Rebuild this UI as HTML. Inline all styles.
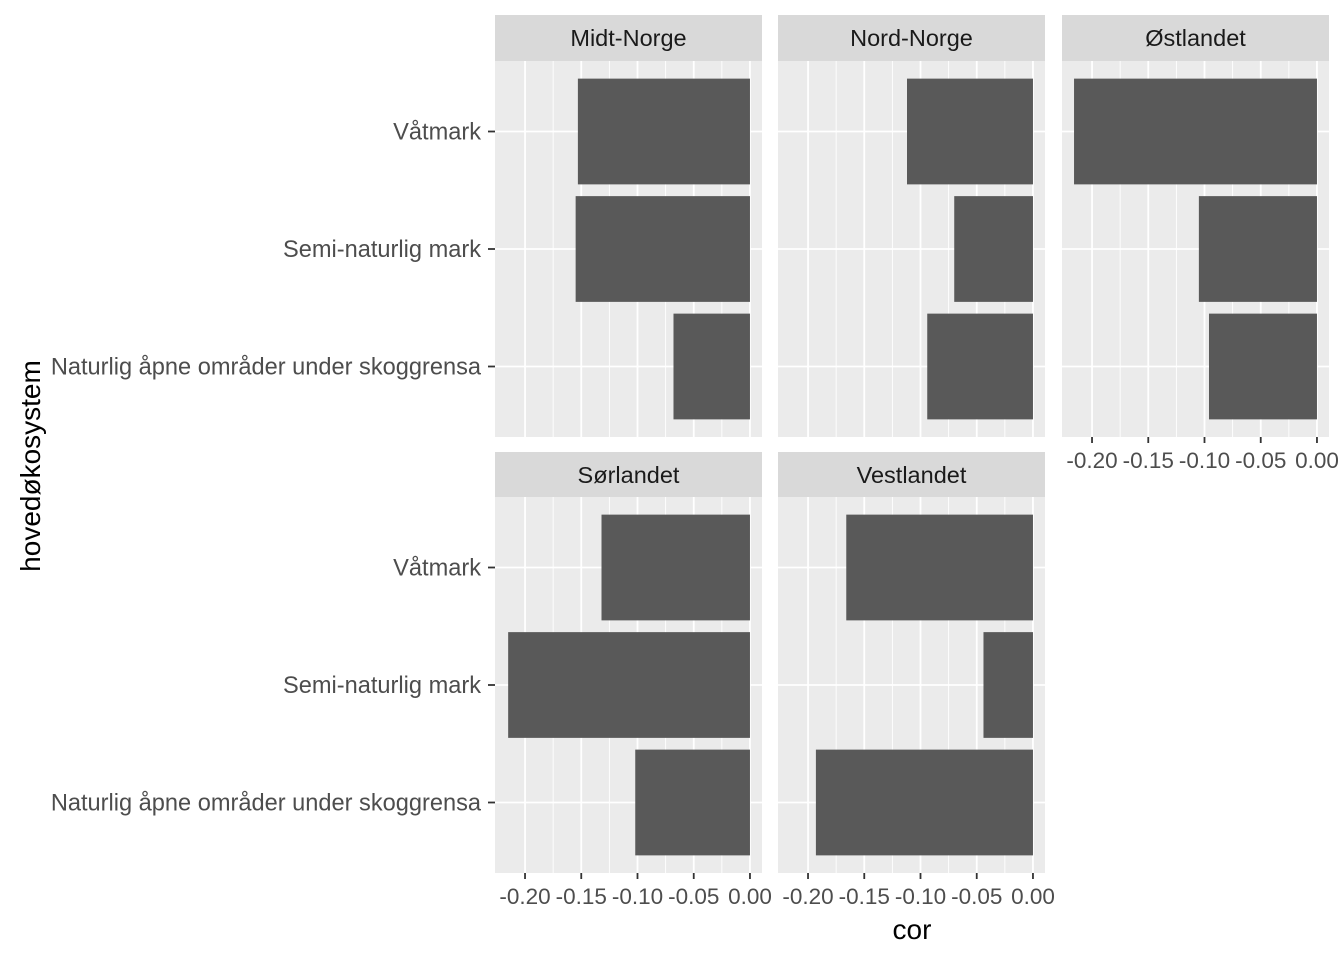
<!DOCTYPE html>
<html><head><meta charset="utf-8"><style>
body{margin:0;background:#fff}
svg{display:block;font-family:"Liberation Sans",Arial,sans-serif}
</style></head><body>
<svg id="c" width="1344" height="960"></svg>
<script>
const categories=["Våtmark","Semi-naturlig mark","Naturlig åpne områder under skoggrensa"];
const facets=["Midt-Norge","Nord-Norge","Østlandet","Sørlandet","Vestlandet"];
const valMidt=[-0.153,-0.155,-0.068];
const valNord=[-0.112,-0.070,-0.094];
const valOst=[-0.216,-0.105,-0.096];
const valSor=[-0.132,-0.215,-0.102];
const valVest=[-0.166,-0.044,-0.193];
const tickVals=[-0.20,-0.15,-0.10,-0.05,0.00];
const tickLabels=["-0.20","-0.15","-0.10","-0.05","0.00"];
const values=[valMidt,valNord,valOst,valSor,valVest];
const NS="http://www.w3.org/2000/svg";
const svg=document.getElementById('c');
function el(t,a,p){const e=document.createElementNS(NS,t);for(const k in a)e.setAttribute(k,a[k]);(p||svg).appendChild(e);return e;}
const xmin=-0.2267,xmax=0.0107,pw=267;
const cols=[495,778,1062],rows=[{s:15,p:61,b:437},{s:452,p:497,b:873}];
function xs(x0,v){return x0+(v-xmin)/(xmax-xmin)*pw;}
const unit=(437-61)/3.2;
function ys(r,i){return r.p+unit*(0.6+i);}
facets.forEach((f,k)=>{
  const r=rows[Math.floor(k/3)],x0=cols[k%3];
  const g=el('g',{});
  
  
  el('rect',{x:x0,y:r.s,width:pw,height:r.p-r.s,fill:'#d9d9d9'},g);
  const st=el('text',{x:x0+pw/2,y:r.s+31,'text-anchor':'middle','font-size':'23.5',fill:'#1a1a1a'},g);st.textContent=f;
  
  el('rect',{x:x0,y:r.p,width:pw,height:r.b-r.p,fill:'#ebebeb'},g);
  for(let i=0;i<tickVals.length-1;i++){const m=(tickVals[i]+tickVals[i+1])/2;const x=xs(x0,m);el('line',{x1:x,x2:x,y1:r.p,y2:r.b,stroke:'#fff','stroke-width':0.9},g);}
  tickVals.forEach(v=>{const x=xs(x0,v);el('line',{x1:x,x2:x,y1:r.p,y2:r.b,stroke:'#fff','stroke-width':1.8},g);});
  categories.forEach((c,i)=>{const y=ys(r,i);el('line',{x1:x0,x2:x0+pw,y1:y,y2:y,stroke:'#fff','stroke-width':1.8},g);});
  values[k].forEach((v,i)=>{const y=ys(r,i);const a=xs(x0,v),b=xs(x0,0);
    const bar=el('rect',{x:Math.min(a,b),y:y-unit*0.45,width:Math.abs(b-a),height:unit*0.9,fill:'#595959'},g);
    });
  if(k>=2){tickVals.forEach((v,j)=>{const x=xs(x0,v);el('line',{x1:x,x2:x,y1:r.b,y2:r.b+6,stroke:'#333','stroke-width':1.8});
    const t=el('text',{x:x,y:r.b+31,'text-anchor':'middle','font-size':'22.5',fill:'#4d4d4d'});t.textContent=tickLabels[j];
    });}
  if(k%3===0){categories.forEach((c,i)=>{const y=ys(r,i);el('line',{x1:x0-7,x2:x0,y1:y,y2:y,stroke:'#333','stroke-width':1.8});
    const t=el('text',{x:x0-14,y:y+8,'text-anchor':'end','font-size':'23.6',fill:'#4d4d4d'});t.textContent=c;
    });}
});
const xt=el('text',{x:912,y:939,'text-anchor':'middle','font-size':'28',fill:'#000'});xt.textContent='cor';

const yt=el('text',{x:40,y:466,'text-anchor':'middle','font-size':'28',fill:'#000',transform:'rotate(-90 40 466)'});yt.textContent='hovedøkosystem';

</script>
</body></html>
